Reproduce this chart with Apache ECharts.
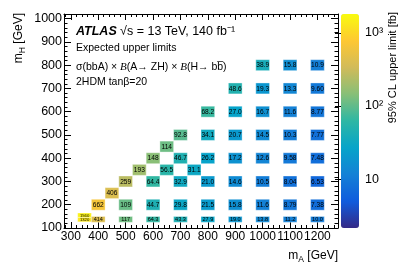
<!DOCTYPE html>
<html><head><meta charset="utf-8">
<script src="https://cdn.jsdelivr.net/npm/echarts@6/dist/echarts.min.js"></script>
<style>html,body{margin:0;padding:0;background:#fff}#c{width:399px;height:271px}</style>
</head><body><div id="c"></div>
<script>
// ---- data ----
const massA = [
  350, 350, 400, 500, 600, 700, 800, 900, 1000, 1100, 1200,
  400, 500, 600, 700, 800, 900, 1000, 1100, 1200,
  450,
  500, 600, 700, 800, 900, 1000, 1100, 1200,
  550, 650, 750,
  600, 700, 800, 900, 1000, 1100, 1200,
  650,
  700, 800, 900, 1000, 1100, 1200,
  800, 900, 1000, 1100, 1200,
  900, 1000, 1100, 1200,
  1000, 1100, 1200
];
const massH = [
  155, 136, 137, 137, 137, 137, 137, 137, 137, 137, 137,
  200, 200, 200, 200, 200, 200, 200, 200, 200,
  250,
  300, 300, 300, 300, 300, 300, 300, 300,
  350, 350, 350,
  400, 400, 400, 400, 400, 400, 400,
  450,
  500, 500, 500, 500, 500, 500,
  600, 600, 600, 600, 600,
  700, 700, 700, 700,
  800, 800, 800
];
const upperLimit = [
  1560, 1320, 414, 117, 64.3, 43.3, 27.9, 19.0, 13.8, 11.2, 10.0,
  662, 109, 44.7, 29.8, 21.5, 15.8, 11.6, 8.79, 7.38,
  406,
  259, 64.4, 32.9, 21.0, 14.6, 10.5, 8.04, 6.53,
  193, 56.5, 31.1,
  148, 46.7, 26.2, 17.2, 12.6, 9.58, 7.48,
  114,
  92.8, 34.1, 20.7, 14.5, 10.3, 7.77,
  68.2, 27.0, 16.7, 11.6, 8.77,
  48.6, 19.3, 13.3, 9.60,
  38.9, 15.8, 10.9
];
const xTickLabels = [300, 400, 500, 600, 700, 800, 900, 1000, 1100, 1200];
const yTickLabels = [100, 200, 300, 400, 500, 600, 700, 800, 900, 1000];
const zTickLabels = [10, 100, 1000];
const zMinorTickValues = [3, 4, 5, 6, 7, 8, 9, 20, 30, 40, 50, 60, 70, 80, 90, 200, 300, 400, 500, 600, 700, 800, 900];

// ---- ranges / style ----
const xRange = [275, 1275], yRange = [100, 1020], zRange = [2.14, 1820];
const FONT = '"Liberation Sans", Arial, sans-serif';
const bird = ['#352a87', '#0f5cdd', '#1481d6', '#06a4ca', '#2eb7a4', '#87bf77', '#d1bb59', '#fec832', '#f9fb0e'];

function minorList(from, to, step, majors) {
  const out = [];
  for (let v = from; v <= to; v += step) if (majors.indexOf(v) < 0) out.push(v);
  return out;
}
const xMinor = minorList(280, 1260, 20, xTickLabels);
const yMinor = minorList(120, 1020, 20, yTickLabels);

function fmt(v) { return v >= 100 ? v.toFixed(0) : (v >= 10 ? v.toFixed(1) : v.toFixed(2)); }

const data = massA.map((a, i) => [a, massH[i], upperLimit[i], Math.log10(upperLimit[i])]);

function renderItem(params, api) {
  const x = api.value(0), y = api.value(1);
  const hGeV = y < 180 ? (x < 375 ? 19 : 25) : 47;
  const c = api.coord([x, y]);
  const s = api.size([50, hGeV]);
  const w = s[0], h = s[1];
  const fs = Math.min(6.6, h * 0.95);
  return {
    type: 'group',
    children: [
      { type: 'rect', shape: { x: c[0] - w / 2, y: c[1] - h / 2, width: w, height: h }, style: { fill: api.visual('color'), stroke: 'rgba(255,255,255,0.35)', lineWidth: 1 } },
      { type: 'text', x: c[0], y: c[1] + 0.3, style: { text: fmt(api.value(2)), fontSize: fs, fontFamily: FONT, fill: '#000', stroke: null, lineWidth: 0, align: 'center', verticalAlign: 'middle' } }
    ]
  };
}

const black = { color: '#000', width: 1 };
function xAx(pos, vals, len, labels, line) {
  return {
    type: 'value', gridIndex: 0, position: pos, min: xRange[0], max: xRange[1],
    axisLine: { show: line, lineStyle: black },
    axisTick: { show: true, inside: true, length: len, lineStyle: black, customValues: vals },
    axisLabel: labels ? { show: true, customValues: vals, formatter: v => String(v), hideOverlap: false, fontSize: 12, fontFamily: FONT, color: '#000', margin: 3 } : { show: false },
    splitLine: { show: false }
  };
}
function yAx(pos, vals, len, labels, line) {
  return {
    type: 'value', gridIndex: 0, position: pos, min: yRange[0], max: yRange[1],
    axisLine: { show: line, lineStyle: black },
    axisTick: { show: true, inside: true, length: len, lineStyle: black, customValues: vals },
    axisLabel: labels ? { show: true, customValues: vals, formatter: v => String(v), hideOverlap: false, fontSize: 12.5, fontFamily: FONT, color: '#000', margin: 2 } : { show: false },
    splitLine: { show: false }
  };
}
const lz = [Math.log10(zRange[0]), Math.log10(zRange[1])];
const supMap = { 1: '10', 2: '10²', 3: '10³' };

const option = {
  animation: false,
  backgroundColor: '#fff',
  grid: [
    { left: 64, right: 61, top: 14, bottom: 43 },
    { left: 341, width: 18, top: 14, height: 214 }
  ],
  xAxis: [
    xAx('bottom', xTickLabels, 6, true, true),
    xAx('top', xTickLabels, 6, false, true),
    xAx('bottom', xMinor, 3, false, false),
    xAx('top', xMinor, 3, false, false),
    { type: 'value', gridIndex: 1, show: false, min: 0, max: 1 }
  ],
  yAxis: [
    yAx('left', yTickLabels, 7, true, true),
    yAx('right', yTickLabels, 7, false, true),
    yAx('left', yMinor, 3.5, false, false),
    yAx('right', yMinor, 3.5, false, false),
    {
      type: 'value', gridIndex: 1, position: 'right', min: lz[0], max: lz[1],
      axisLine: { show: false },
      axisTick: { show: true, inside: true, length: 6, lineStyle: black, customValues: zTickLabels.map(Math.log10) },
      axisLabel: { show: true, customValues: zTickLabels.map(Math.log10), formatter: v => supMap[Math.round(v)], fontSize: 12.5, fontFamily: FONT, color: '#000', margin: 6 },
      splitLine: { show: false }
    },
    {
      type: 'value', gridIndex: 1, position: 'right', min: lz[0], max: lz[1],
      axisLine: { show: false },
      axisTick: { show: true, inside: true, length: 3, lineStyle: black, customValues: zMinorTickValues.map(Math.log10) },
      axisLabel: { show: false }, splitLine: { show: false }
    }
  ],
  visualMap: {
    type: 'continuous', min: lz[0], max: lz[1], dimension: 3, seriesIndex: 0,
    orient: 'vertical', left: 341, top: 14, itemWidth: 18, itemHeight: 214, padding: 0,
    calculable: false, showLabel: false, hoverLink: false,
    inRange: { color: bird }
  },
  graphic: [
    { type: 'text', x: 76, y: 32, style: { text: '{a|ATLAS} {b|√s = 13 TeV, 140 fb⁻¹}', verticalAlign: 'middle', align: 'left',
      rich: { a: { fontSize: 12.5, fontWeight: 'bold', fontStyle: 'italic', fontFamily: FONT, fill: '#000' }, b: { fontSize: 12.5, fontFamily: FONT, fill: '#000' } } } },
    { type: 'text', x: 76, y: 48, style: { text: 'Expected upper limits', font: '10.5px ' + FONT, fill: '#000', verticalAlign: 'middle', align: 'left' } },
    { type: 'text', x: 76, y: 67, style: { text: 'σ(bbA) × {i|B}(A→ ZH) × {i|B}(H→ bb\u0305)', verticalAlign: 'middle', align: 'left', fontSize: 10.5, fontFamily: FONT, fill: '#000',
      rich: { i: { fontSize: 11, fontStyle: 'italic', fontFamily: '"Liberation Serif", serif', fill: '#000' } } } },
    { type: 'text', x: 76, y: 82, style: { text: '2HDM tanβ=20', font: '10.5px ' + FONT, fill: '#000', verticalAlign: 'middle', align: 'left' } },
    { type: 'text', x: 19, y: 13, rotation: Math.PI / 2, style: { text: 'm{s|H} [GeV]', align: 'right', verticalAlign: 'middle', fontSize: 12, fontFamily: FONT, fill: '#000', lineHeight: 16,
      rich: { s: { fontSize: 8.5, fontFamily: FONT, fill: '#000', lineHeight: 9, verticalAlign: 'bottom' } } } },
    { type: 'text', x: 338, y: 256, style: { text: 'm{s|A} [GeV]', align: 'right', verticalAlign: 'middle', fontSize: 12, fontFamily: FONT, fill: '#000', lineHeight: 16,
      rich: { s: { fontSize: 8.5, fontFamily: FONT, fill: '#000', lineHeight: 9, verticalAlign: 'bottom' } } } },
    { type: 'text', x: 393, y: 12, rotation: Math.PI / 2, style: { text: '95% CL upper limit [fb]', align: 'right', verticalAlign: 'middle', font: '11px ' + FONT, fill: '#000' } }
  ],
  series: [{
    type: 'custom', xAxisIndex: 0, yAxisIndex: 0, renderItem: renderItem, data: data,
    encode: { x: 0, y: 1 }, silent: true
  }]
};
const chart = echarts.init(document.getElementById('c'), null, { renderer: 'canvas' });
chart.setOption(option);
</script></body></html>
